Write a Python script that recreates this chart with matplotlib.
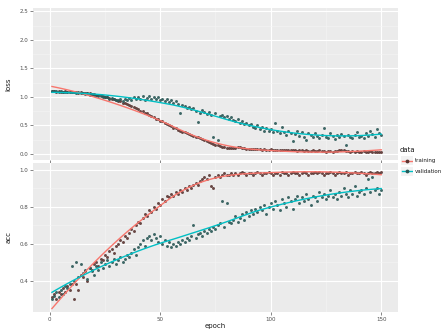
import numpy as np
import matplotlib.pyplot as plt

# per-epoch history values
epochs = np.arange(1, 151)

train_loss = [
    1.10, 1.10, 1.09, 1.10, 1.09, 1.09, 1.10, 1.09, 1.08, 1.09,
    1.08, 1.08, 1.07, 1.08, 1.07, 1.06, 1.07, 1.06, 1.05, 1.05,
    1.04, 1.03, 1.03, 1.01, 1.00, 1.00, 0.98, 0.97, 0.96, 0.95,
    0.93, 0.93, 0.90, 0.90, 0.87, 0.86, 0.84, 0.82, 0.80, 0.79,
    0.76, 0.75, 0.72, 0.71, 0.68, 0.66, 0.65, 0.62, 0.61, 0.58,
    0.57, 0.54, 0.53, 0.50, 0.49, 0.46, 0.45, 0.42, 0.41, 0.39,
    0.38, 0.36, 0.35, 0.33, 0.32, 0.30, 0.29, 0.27, 0.26, 0.24,
    0.23, 0.21, 0.19, 0.18, 0.16, 0.15, 0.13, 0.12, 0.12, 0.11,
    0.11, 0.10, 0.10, 0.11, 0.12, 0.12, 0.11, 0.10, 0.09, 0.09,
    0.09, 0.08, 0.09, 0.08, 0.08, 0.07, 0.08, 0.07, 0.07, 0.08,
    0.07, 0.07, 0.06, 0.07, 0.06, 0.07, 0.06, 0.06, 0.07, 0.06,
    0.06, 0.05, 0.06, 0.06, 0.05, 0.06, 0.05, 0.05, 0.06, 0.05,
    0.05, 0.06, 0.05, 0.05, 0.04, 0.05, 0.05, 0.04, 0.05, 0.05,
    0.06, 0.07, 0.06, 0.05, 0.05, 0.04, 0.05, 0.04, 0.05, 0.04,
    0.04, 0.05, 0.04, 0.04, 0.05, 0.04, 0.04, 0.03, 0.04, 0.04,
]
val_loss = [
    1.11, 1.10, 1.10, 1.09, 1.10, 1.09, 1.09, 1.08, 1.09, 1.08,
    1.08, 1.07, 1.08, 1.06, 1.07, 1.05, 1.06, 1.04, 1.05, 1.03,
    1.03, 1.02, 1.01, 1.00, 0.99, 0.99, 0.97, 0.98, 0.96, 0.95,
    0.94, 0.96, 0.93, 0.97, 0.95, 0.98, 0.94, 0.99, 0.96, 1.00,
    0.97, 1.01, 0.95, 0.98, 1.02, 0.96, 0.99, 0.97, 1.00, 0.95,
    0.97, 0.93, 0.96, 0.91, 0.94, 0.89, 0.92, 0.87, 0.72, 0.85,
    0.84, 0.80, 0.83, 0.78, 0.80, 0.75, 0.56, 0.72, 0.77, 0.74,
    0.70, 0.73, 0.68, 0.30, 0.71, 0.25, 0.66, 0.69, 0.64, 0.67,
    0.62, 0.65, 0.60, 0.58, 0.62, 0.55, 0.57, 0.52, 0.55, 0.50,
    0.53, 0.48, 0.45, 0.50, 0.44, 0.47, 0.41, 0.46, 0.40, 0.43,
    0.38, 0.54, 0.40, 0.36, 0.48, 0.39, 0.34, 0.41, 0.37, 0.22,
    0.35, 0.40, 0.32, 0.38, 0.30, 0.25, 0.36, 0.33, 0.29, 0.37,
    0.31, 0.27, 0.34, 0.45, 0.30, 0.28, 0.36, 0.32, 0.26, 0.33,
    0.29, 0.35, 0.31, 0.16, 0.34, 0.30, 0.27, 0.33, 0.38, 0.29,
    0.32, 0.28, 0.36, 0.31, 0.40, 0.35, 0.30, 0.44, 0.37, 0.33,
]
train_acc = [
    0.31, 0.33, 0.30, 0.34, 0.33, 0.36, 0.34, 0.37, 0.35, 0.38,
    0.30, 0.38, 0.35, 0.43, 0.42, 0.45, 0.40, 0.47, 0.46, 0.49,
    0.50, 0.48, 0.52, 0.51, 0.54, 0.53, 0.56, 0.57, 0.55, 0.59,
    0.60, 0.62, 0.61, 0.64, 0.63, 0.66, 0.68, 0.67, 0.70, 0.72,
    0.71, 0.74, 0.76, 0.75, 0.78, 0.77, 0.80, 0.79, 0.82, 0.81,
    0.84, 0.83, 0.86, 0.85, 0.87, 0.86, 0.88, 0.87, 0.89, 0.88,
    0.90, 0.89, 0.91, 0.90, 0.92, 0.93, 0.92, 0.94, 0.95, 0.96,
    0.95, 0.97, 0.91, 0.90, 0.96, 0.97, 0.96, 0.97, 0.98, 0.97,
    0.97, 0.98, 0.97, 0.98, 0.97, 0.98, 0.99, 0.98, 0.97, 0.98,
    0.98, 0.97, 0.98, 0.99, 0.98, 0.97, 0.98, 0.98, 0.99, 0.98,
    0.97, 0.98, 0.98, 0.97, 0.99, 0.98, 0.98, 0.97, 0.98, 0.99,
    0.98, 0.98, 0.97, 0.98, 0.99, 0.98, 0.97, 0.98, 0.98, 0.99,
    0.98, 0.99, 0.98, 0.97, 0.98, 0.98, 0.99, 0.98, 0.97, 0.98,
    0.99, 0.98, 0.98, 0.99, 0.97, 0.98, 0.98, 0.99, 0.98, 0.98,
    0.99, 0.98, 0.97, 0.98, 0.99, 0.98, 0.98, 0.99, 0.98, 0.99,
]
val_acc = [
    0.30, 0.32, 0.34, 0.31, 0.35, 0.33, 0.37, 0.36, 0.38, 0.48,
    0.40, 0.50, 0.42, 0.49, 0.44, 0.46, 0.41, 0.47, 0.45, 0.43,
    0.48, 0.46, 0.50, 0.47, 0.49, 0.51, 0.48, 0.50, 0.52, 0.49,
    0.51, 0.53, 0.50, 0.52, 0.54, 0.53, 0.55, 0.57, 0.54, 0.58,
    0.60, 0.62, 0.59, 0.63, 0.64, 0.62, 0.65, 0.63, 0.61, 0.64,
    0.60, 0.62, 0.59, 0.61, 0.58, 0.60, 0.59, 0.61, 0.60, 0.62,
    0.61, 0.63, 0.62, 0.64, 0.70, 0.63, 0.65, 0.66, 0.64, 0.67,
    0.66, 0.68, 0.67, 0.69, 0.68, 0.70, 0.71, 0.83, 0.69, 0.82,
    0.72, 0.71, 0.73, 0.75, 0.72, 0.74, 0.76, 0.73, 0.77, 0.75,
    0.78, 0.76, 0.79, 0.77, 0.80, 0.78, 0.81, 0.76, 0.80, 0.82,
    0.79, 0.83, 0.81, 0.78, 0.84, 0.82, 0.80, 0.85, 0.83, 0.79,
    0.84, 0.86, 0.82, 0.85, 0.83, 0.87, 0.84, 0.81, 0.86, 0.85,
    0.83, 0.88, 0.85, 0.87, 0.84, 0.86, 0.89, 0.85, 0.87, 0.84,
    0.88, 0.86, 0.90, 0.87, 0.85, 0.89, 0.87, 0.91, 0.86, 0.88,
    0.89, 0.87, 0.90, 0.95, 0.88, 0.96, 0.89, 0.90, 0.87, 0.89,
]

series_names = ['training', 'validation']
line_colors = ['#F8766D', '#00BFC4']
point_colors = ['#5a3532', '#2a5856']


def loess(x, y, span=0.75, grid_n=80):
    """ Local quadratic fit with tricube weights, like geom_smooth(). """
    x = np.asarray(x, float)
    y = np.asarray(y, float)
    k = int(np.ceil(span * len(x)))
    grid = np.linspace(x.min(), x.max(), grid_n)
    fit = []
    for x0 in grid:
        d = np.abs(x - x0)
        h = np.sort(d)[k - 1]
        w = np.clip(1 - (d / h) ** 3, 0, None) ** 3
        X = np.vstack([np.ones_like(x), x - x0, (x - x0) ** 2]).T
        W = np.sqrt(w)
        beta = np.linalg.lstsq(X * W[:, None], y * W, rcond=None)[0]
        fit.append(beta[0])
    return grid, np.array(fit)


def style_panel(ax, ylim, yticks):
    ax.set_facecolor('#EBEBEB')
    ax.set_xlim(-7.5, 157.5)
    ax.set_ylim(*ylim)
    ax.set_yticks(yticks)
    ax.set_xticks([0, 50, 100, 150])
    ax.set_xticks([25, 75, 125], minor=True)
    minor_y = [(a + b) / 2 for a, b in zip(yticks[:-1], yticks[1:])]
    ax.set_yticks(minor_y, minor=True)
    ax.grid(True, which='major', color='white', lw=0.8)
    ax.grid(True, which='minor', color='#F5F5F5', lw=0.4)
    ax.set_axisbelow(True)
    for s in ax.spines.values():
        s.set_visible(False)
    ax.tick_params(which='major', length=2, width=0.5, color='#555555',
                   labelsize=4, labelcolor='#4D4D4D', pad=1.5)
    ax.tick_params(which='minor', length=0)


fig = plt.figure(figsize=(4.42, 3.31), dpi=100)
ax_loss = fig.add_axes([0.075, 0.517, 0.825, 0.459])
ax_acc = fig.add_axes([0.075, 0.058, 0.825, 0.450])

panels = [
    (ax_loss, [train_loss, val_loss], (-0.105, 2.56), [0.0, 0.5, 1.0, 1.5, 2.0, 2.5], 'loss'),
    (ax_acc, [train_acc, val_acc], (0.232, 1.037), [0.4, 0.6, 0.8, 1.0], 'acc'),
]

for ax, values, ylim, yticks, label in panels:
    style_panel(ax, ylim, yticks)
    for vals, lc, pc, name in zip(values, line_colors, point_colors, series_names):
        ax.scatter(epochs, vals, s=4.5, color=pc, alpha=0.9, lw=0, zorder=3)
        gx, gy = loess(epochs, vals)
        ax.plot(gx, gy, color=lc, lw=1.0, zorder=4, label=name)
    ax.set_ylabel(label, fontsize=5, color='#1A1A1A', labelpad=6)

ax_loss.tick_params(labelbottom=False)
ax_acc.set_xlabel('epoch', fontsize=5, color='#1A1A1A', labelpad=1)

# legend: key boxes with line + point
fig.text(0.905, 0.548, 'data', fontsize=5, color='#1A1A1A', va='center')
for i, (name, lc, pc) in enumerate(zip(series_names, line_colors, point_colors)):
    yk = 0.515 - i * 0.033
    key = fig.add_axes([0.908, yk - 0.014, 0.026, 0.028])
    key.set_facecolor('#F2F2F2')
    key.set_xlim(0, 1)
    key.set_ylim(0, 1)
    key.plot([0.1, 0.9], [0.5, 0.5], color=lc, lw=1.0)
    key.scatter([0.5], [0.5], s=3, color=pc, zorder=3)
    key.set_xticks([])
    key.set_yticks([])
    for s in key.spines.values():
        s.set_visible(False)
    fig.text(0.938, yk, name, fontsize=4, color='#1A1A1A', va='center')

plt.savefig('out.png', dpi=100)
